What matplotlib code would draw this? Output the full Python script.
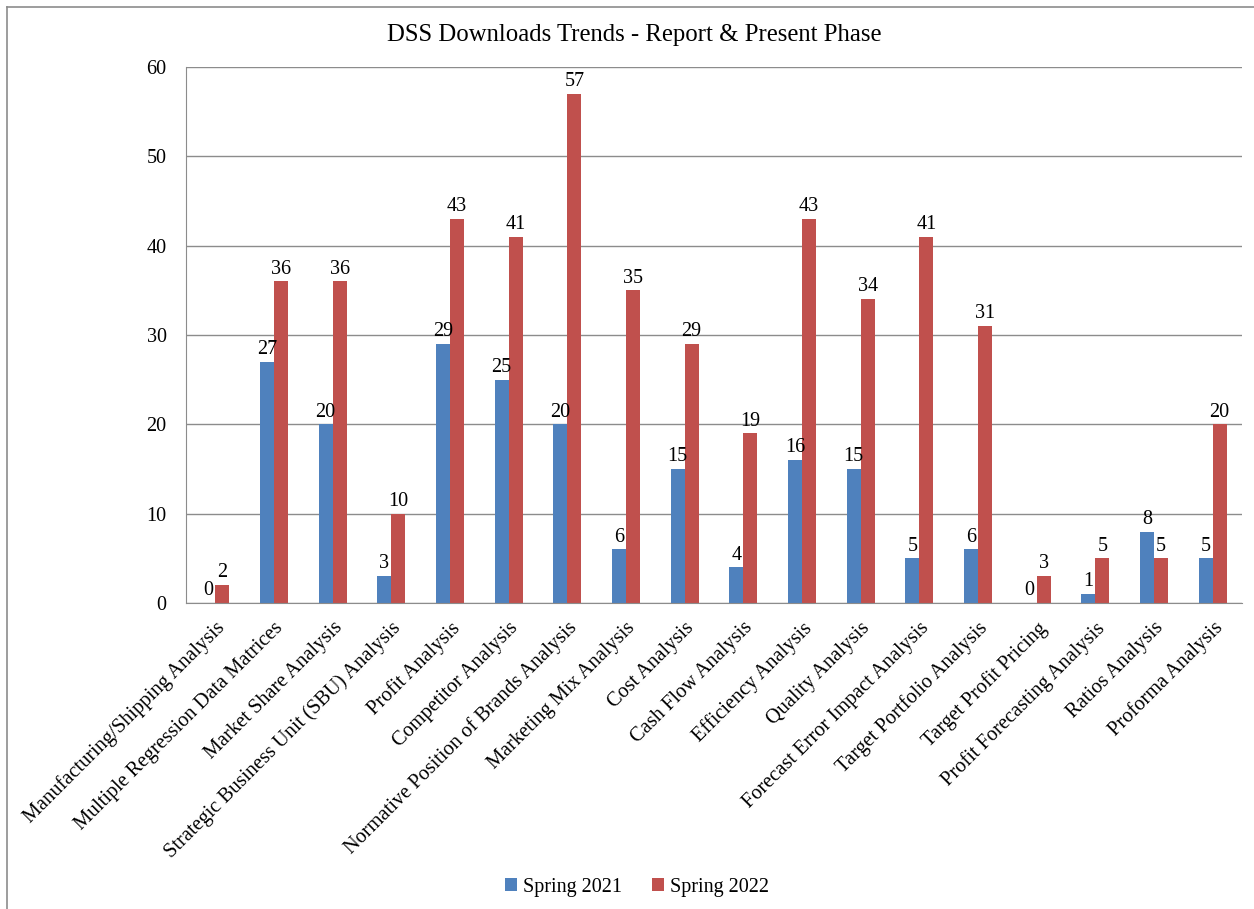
import matplotlib.pyplot as plt
import numpy as np

plt.rcParams['font.family'] = ['Liberation Serif', 'DejaVu Serif']

categories = [
    "Manufacturing/Shipping Analysis", "Multiple Regression Data Matrices",
    "Market Share Analysis", "Strategic Business Unit (SBU) Analysis",
    "Profit Analysis", "Competitor Analysis",
    "Normative Position of Brands Analysis", "Marketing Mix Analysis",
    "Cost Analysis", "Cash Flow Analysis", "Efficiency Analysis",
    "Quality Analysis", "Forecast Error Impact Analysis",
    "Target Portfolio Analysis", "Target Profit Pricing",
    "Profit Forecasting Analysis", "Ratios Analysis", "Proforma Analysis",
]
spring_2021 = [0, 27, 20, 3, 29, 25, 20, 6, 15, 4, 16, 15, 5, 6, 0, 1, 8, 5]
spring_2022 = [2, 36, 36, 10, 43, 41, 57, 35, 29, 19, 43, 34, 41, 31, 3, 5, 5, 20]

fig = plt.figure(figsize=(12.54, 9.09), dpi=100)
ax = fig.add_axes([0.1483, 0.3366, 0.8421, 0.5897])

x = np.arange(len(categories))
w = 0.24
b1 = ax.bar(x - w / 2, spring_2021, w, color="#4F81BD", label="Spring 2021")
b2 = ax.bar(x + w / 2, spring_2022, w, color="#C0504D", label="Spring 2022")
ax.bar_label(b1, padding=2, fontsize=14.5)
ax.bar_label(b2, padding=2, fontsize=14.5)

ax.set_xlim(-0.5, len(categories) - 0.5)
ax.set_ylim(0, 60)
ax.set_yticks(range(0, 61, 10))
ax.yaxis.grid(True, color="#8c8c8c", linewidth=1)
ax.set_axisbelow(True)
for s in ["top", "right"]:
    ax.spines[s].set_visible(False)
for s in ["left", "bottom"]:
    ax.spines[s].set_color("#8c8c8c")
ax.tick_params(axis="y", labelsize=14.5, length=0, pad=14)
ax.tick_params(axis="x", length=0, pad=11)
ax.set_xticks(x)
ax.set_xticklabels(categories, rotation=45, ha="right", va="top",
                   rotation_mode="anchor", fontsize=14.7)

fig.text(0.506, 0.961, "DSS Downloads Trends - Report & Present Phase",
         ha="center", va="center", fontsize=17.8)
fig.legend(loc="center", bbox_to_anchor=(0.508, 0.024), ncol=2, frameon=False,
           fontsize=14.5, handlelength=0.6, handleheight=0.6, columnspacing=1.5,
           handletextpad=0.3)

# chart area border (cropped at right and bottom)
fig.add_artist(plt.Line2D([7 / 1254, 1], [1 - 7 / 909] * 2,
                          transform=fig.transFigure, color="#8c8c8c", lw=1.2))
fig.add_artist(plt.Line2D([7 / 1254] * 2, [0, 1 - 7 / 909],
                          transform=fig.transFigure, color="#8c8c8c", lw=1.2))

fig.savefig("out.png", dpi=100)
